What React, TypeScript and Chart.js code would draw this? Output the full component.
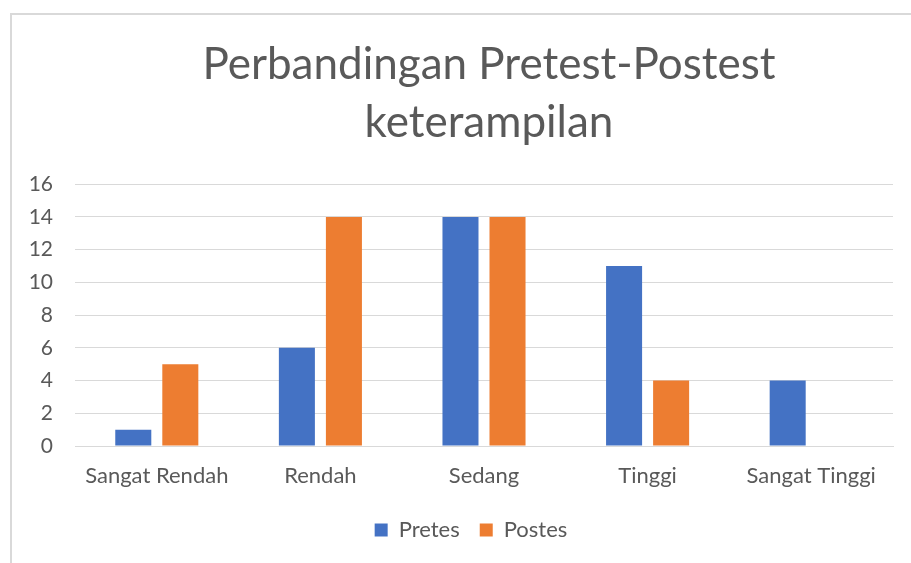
import React, { useEffect, useRef } from "react";
import { Chart, registerables } from "chart.js";

Chart.register(...registerables);

const categories = ["Sangat Rendah", "Rendah", "Sedang", "Tinggi", "Sangat Tinggi"];
const pretes = [1, 6, 14, 11, 4];
const postes = [5, 14, 14, 4, 0];
const titleLines = ["Perbandingan Pretest-Postest", "keterampilan"];
const seriesNames = ["Pretes", "Postes"];

const FONT = "Lato, 'Open Sans', sans-serif";
const TEXT = "#595959";
const GRID = "#d9d9d9";

// Shift the title and legend blocks horizontally (the original chart is wider than the crop)
const shiftPlugin = {
  id: "shiftBlocks",
  afterLayout(chart: any) {
    if (chart.titleBlock) {
      chart.titleBlock.left += 35;
      chart.titleBlock.right += 35;
    }
    if (chart.legend) {
      chart.legend.left += 17;
      chart.legend.right += 17;
    }
  },
};

export default function App() {
  const ref = useRef<HTMLCanvasElement | null>(null);

  useEffect(() => {
    if (!ref.current) return;
    const chart = new Chart(ref.current, {
      type: "bar",
      data: {
        labels: categories,
        datasets: [
          { label: seriesNames[0], data: pretes, backgroundColor: "#4472C4", categoryPercentage: 0.575, barPercentage: 0.766 },
          { label: seriesNames[1], data: postes, backgroundColor: "#ED7D31", categoryPercentage: 0.575, barPercentage: 0.766 },
        ],
      },
      plugins: [shiftPlugin],
      options: {
        animation: false,
        responsive: false,
        maintainAspectRatio: false,
        layout: { padding: { left: 15, right: 18, top: 0, bottom: 12 } },
        plugins: {
          title: {
            display: true,
            text: titleLines,
            color: TEXT,
            font: { family: FONT, size: 44, weight: "normal", lineHeight: 1.32 },
            padding: { top: 36, bottom: 32 },
          },
          legend: {
            position: "bottom",
            labels: {
              color: TEXT,
              font: { family: FONT, size: 22 },
              boxWidth: 13,
              boxHeight: 13,
              padding: 20,
            },
          },
          tooltip: { enabled: false },
        },
        scales: {
          x: {
            afterFit: (axis: any) => { axis.height = 53; },
            grid: { display: false, drawTicks: false },
            border: { display: true, color: GRID, width: 1 },
            ticks: { color: TEXT, font: { family: FONT, size: 22 }, padding: 17, maxRotation: 0 },
          },
          y: {
            min: 0,
            max: 16,
            afterFit: (axis: any) => { axis.width = 60; },
            grid: { color: GRID, drawTicks: false, lineWidth: 1 },
            border: { display: false },
            ticks: { stepSize: 2, color: TEXT, font: { family: FONT, size: 21 }, padding: 22 },
          },
        },
      },
    });
    return () => chart.destroy();
  }, []);

  return (
    <div style={{ position: "fixed", left: 0, top: 0, width: 911, height: 563, overflow: "hidden", background: "#fff" }}>
      <div
        style={{
          position: "absolute",
          left: 10,
          top: 13,
          width: 960,
          height: 620,
          borderLeft: "2px solid #d9d9d9",
          borderTop: "2px solid #d9d9d9",
          boxSizing: "border-box",
        }}
      />
      <canvas ref={ref} width={911} height={563} style={{ position: "absolute", left: 0, top: 0, width: 911, height: 563 }} />
    </div>
  );
}
